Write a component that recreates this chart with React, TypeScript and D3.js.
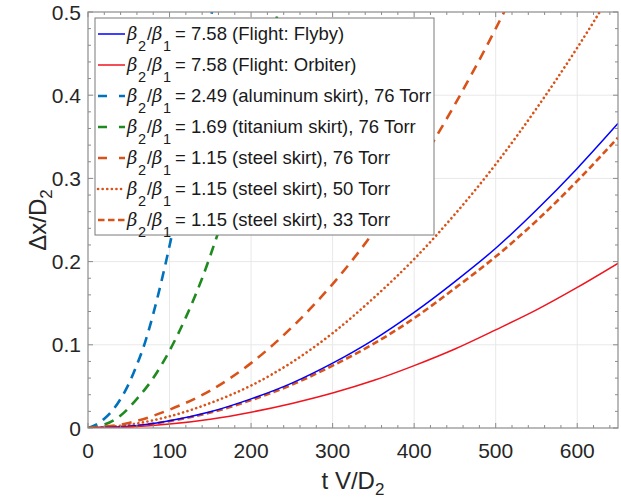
import React from "react";
import * as d3 from "d3";

const W = 621, H = 500;
const M = { left: 88, right: 618, top: 12, bottom: 428 };

const xTicks = [0, 100, 200, 300, 400, 500, 600];
const yTicks = [0, 0.1, 0.2, 0.3, 0.4, 0.5];

const tAluminum = [0, 10, 20, 30, 40, 50, 60, 70, 80, 90, 100, 110, 120, 130, 140, 150, 160];
const yAluminum = [0, 0.004, 0.011, 0.021, 0.035, 0.053, 0.076, 0.103, 0.137, 0.176, 0.219, 0.265, 0.315, 0.37, 0.427, 0.488, 0.55];

const tTitanium = [0, 20, 40, 60, 80, 100, 120, 140, 160, 180, 200, 220, 240];
const yTitanium = [0, 0.004, 0.015, 0.035, 0.06, 0.093, 0.133, 0.18, 0.236, 0.298, 0.368, 0.445, 0.53];

const tSteel76 = [0, 50, 100, 150, 200, 250, 300, 350, 400, 450, 500, 550];
const ySteel76 = [0, 0.006, 0.022, 0.045, 0.078, 0.121, 0.173, 0.235, 0.307, 0.389, 0.48, 0.58];

const tSteel50 = [0, 50, 100, 150, 200, 250, 300, 350, 400, 450, 500, 550, 600, 650];
const ySteel50 = [0, 0.004, 0.014, 0.03, 0.051, 0.079, 0.114, 0.156, 0.203, 0.257, 0.317, 0.384, 0.457, 0.536];

const tFlyby = [0, 50, 100, 150, 200, 250, 300, 350, 400, 450, 500, 550, 600, 650];
const yFlyby = [0, 0.002, 0.0087, 0.0195, 0.035, 0.054, 0.078, 0.106, 0.139, 0.176, 0.216, 0.262, 0.312, 0.366];

const tSteel33 = [0, 50, 100, 150, 200, 250, 300, 350, 400, 450, 500, 550, 600, 650];
const ySteel33 = [0, 0.002, 0.0083, 0.0186, 0.0335, 0.052, 0.075, 0.101, 0.132, 0.168, 0.206, 0.249, 0.297, 0.349];

const tOrbiter = [0, 50, 100, 150, 200, 250, 300, 350, 400, 450, 500, 550, 600, 650];
const yOrbiter = [0, 0.0012, 0.0047, 0.0106, 0.019, 0.0295, 0.042, 0.057, 0.075, 0.095, 0.118, 0.142, 0.169, 0.198];

const ratios = ["7.58", "7.58", "2.49", "1.69", "1.15", "1.15", "1.15"];
const suffixes = [
  " (Flight: Flyby)",
  " (Flight: Orbiter)",
  " (aluminum skirt), 76 Torr",
  " (titanium skirt), 76 Torr",
  " (steel skirt), 76 Torr",
  " (steel skirt), 50 Torr",
  " (steel skirt), 33 Torr",
];

const ORANGE = "#D95319";
const styles = [
  { color: "#0000FF", width: 1.5, dash: "", legendDash: "", cap: "butt" },
  { color: "#F0141E", width: 1.5, dash: "", legendDash: "", cap: "butt" },
  { color: "#0072BD", width: 2.6, dash: "10,7", legendDash: "9,12", cap: "butt" },
  { color: "#1F8A1F", width: 2.6, dash: "10,7", legendDash: "9,12", cap: "butt" },
  { color: ORANGE, width: 2.6, dash: "10,7", legendDash: "9,12", cap: "butt" },
  { color: ORANGE, width: 2.6, dash: "0.1,4.5", legendDash: "0.1,4.5", cap: "round" },
  { color: ORANGE, width: 2.6, dash: "6.5,3.5", legendDash: "6.5,3.5", cap: "butt" },
];

const seriesT = [tFlyby, tOrbiter, tAluminum, tTitanium, tSteel76, tSteel50, tSteel33];
const seriesY = [yFlyby, yOrbiter, yAluminum, yTitanium, ySteel76, ySteel50, ySteel33];
const drawOrder = [2, 3, 4, 5, 6, 0, 1];

export default function App() {
  const x = d3.scaleLinear().domain([0, 650]).range([M.left, M.right]);
  const y = d3.scaleLinear().domain([0, 0.5]).range([M.bottom, M.top]);
  const line = d3
    .line<[number, number]>()
    .x((d) => x(d[0]))
    .y((d) => y(d[1]))
    .curve(d3.curveMonotoneX);

  const xMinor = d3.range(0, 651, 20).filter((v) => v % 100 !== 0);
  const yMinor = d3.range(0, 0.5001, 0.02).filter((v) => Math.abs(v * 10 - Math.round(v * 10)) > 1e-6);

  const axisColor = "#8c8c8c";
  const font = "'Liberation Sans', Arial, sans-serif";
  const greek = "'DejaVu Serif', serif";
  const legendX = 95, legendY = 18, legendW = 339, legendH = 217;
  const rowY0 = 34, rowH = 31;

  return (
    <svg width={W} height={H} style={{ position: "absolute", left: 0, top: 0, background: "#fff" }}>
      <defs>
        <clipPath id="plotclip">
          <rect x={M.left} y={M.top} width={M.right - M.left} height={M.bottom - M.top} />
        </clipPath>
      </defs>
      <rect x={0} y={0} width={W} height={H} fill="#fff" />
      {xTicks.slice(1).map((v) => (
        <line key={"gx" + v} x1={x(v)} x2={x(v)} y1={M.top} y2={M.bottom} stroke="#e8e8e8" strokeWidth={1} />
      ))}
      {yTicks.slice(1, -1).map((v) => (
        <line key={"gy" + v} x1={M.left} x2={M.right} y1={y(v)} y2={y(v)} stroke="#e8e8e8" strokeWidth={1} />
      ))}
      <g clipPath="url(#plotclip)">
        {drawOrder.map((i) => {
          const pts = seriesT[i].map((t, k) => [t, seriesY[i][k]] as [number, number]);
          const s = styles[i];
          return (
            <path
              key={"s" + i}
              d={line(pts) || ""}
              fill="none"
              stroke={s.color}
              strokeWidth={s.width}
              strokeDasharray={s.dash || undefined}
              strokeLinecap={s.cap as any}
            />
          );
        })}
      </g>
      <rect x={M.left} y={M.top} width={M.right - M.left} height={M.bottom - M.top} fill="none" stroke={axisColor} strokeWidth={1.2} />
      {xTicks.map((v) => (
        <g key={"xt" + v}>
          <line x1={x(v)} x2={x(v)} y1={M.bottom} y2={M.bottom - 5} stroke={axisColor} />
          <line x1={x(v)} x2={x(v)} y1={M.top} y2={M.top + 5} stroke={axisColor} />
          <text x={x(v)} y={458} textAnchor="middle" fontFamily={font} fontSize={21} fill="#262626">
            {v}
          </text>
        </g>
      ))}
      {xMinor.map((v) => (
        <g key={"xm" + v}>
          <line x1={x(v)} x2={x(v)} y1={M.bottom} y2={M.bottom - 3} stroke={axisColor} />
          <line x1={x(v)} x2={x(v)} y1={M.top} y2={M.top + 3} stroke={axisColor} />
        </g>
      ))}
      {yTicks.map((v) => (
        <g key={"yt" + v}>
          <line x1={M.left} x2={M.left + 5} y1={y(v)} y2={y(v)} stroke={axisColor} />
          <line x1={M.right} x2={M.right - 5} y1={y(v)} y2={y(v)} stroke={axisColor} />
          <text x={81} y={y(v) + 7.5} textAnchor="end" fontFamily={font} fontSize={21} fill="#262626">
            {v === 0 ? "0" : d3.format(".1f")(v)}
          </text>
        </g>
      ))}
      {yMinor.map((v) => (
        <g key={"ym" + v}>
          <line x1={M.left} x2={M.left + 3} y1={y(v)} y2={y(v)} stroke={axisColor} />
          <line x1={M.right} x2={M.right - 3} y1={y(v)} y2={y(v)} stroke={axisColor} />
        </g>
      ))}
      <text x={(M.left + M.right) / 2} y={489} textAnchor="middle" fontFamily={font} fontSize={24} fill="#262626">
        t V/D<tspan fontSize={17} dy={6}>2</tspan>
      </text>
      <text
        transform={`translate(46, ${(M.top + M.bottom) / 2}) rotate(-90)`}
        textAnchor="middle"
        fontFamily={font}
        fontSize={24}
        fill="#262626"
      >
        Δx/D<tspan fontSize={17} dy={6}>2</tspan>
      </text>
      <rect x={legendX} y={legendY} width={legendW} height={legendH} fill="#fff" stroke="#7a7a7a" strokeWidth={1} />
      {ratios.map((r, i) => {
        const cy = rowY0 + i * rowH;
        const base = cy + 5.5;
        const s = styles[i];
        return (
          <g key={"lg" + i}>
            <line
              x1={98}
              x2={125}
              y1={cy}
              y2={cy}
              stroke={s.color}
              strokeWidth={s.width}
              strokeDasharray={s.legendDash || undefined}
              strokeLinecap={s.cap as any}
            />
            <g fontFamily={font} fill="#1a1a1a">
              <text x={127} y={base} fontFamily={greek} fontStyle="italic" fontSize={18}>β</text>
              <text x={138} y={base + 11} fontSize={14.5}>2</text>
              <text x={147} y={base} fontSize={18.5}>/</text>
              <text x={152} y={base} fontFamily={greek} fontStyle="italic" fontSize={18}>β</text>
              <text x={163} y={base + 11} fontSize={14.5}>1</text>
              <text x={175} y={base} fontSize={18.5} style={{ whiteSpace: "pre" }}>
                {"= " + r + suffixes[i]}
              </text>
            </g>
          </g>
        );
      })}
    </svg>
  );
}
